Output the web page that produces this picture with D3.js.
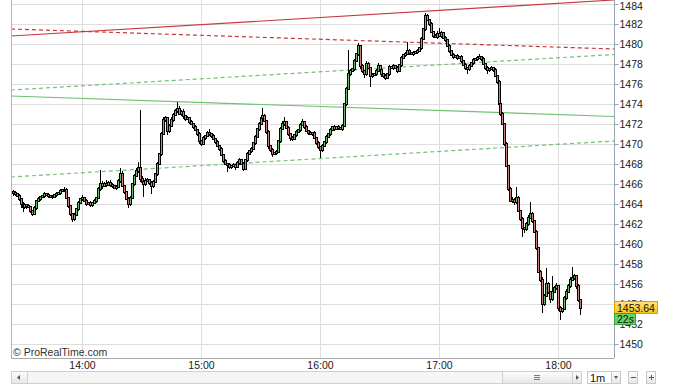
<!DOCTYPE html>
<html lang="en">
<head>
<meta charset="UTF-8">
<script src="https://cdnjs.cloudflare.com/ajax/libs/d3/7.8.5/d3.min.js"></script>
<style>
  body { margin: 0; background: #fff; }
  svg { display: block; font-family: "Liberation Sans", Arial, sans-serif; }
</style>
</head>
<body>
<svg id="chart" width="679" height="388"></svg>
<script>
// 1-minute candles, first bar at 13:25, open of the first bar
const firstBar = new Date(2013, 0, 2, 13, 25);
const firstOpen = 1465.2;

const closes = [
  1465.1,1465.0,1464.8,1464.5,1464.0,1463.7,1463.9,1463.8,1463.7,1463.3,
  1463.0,1463.6,1464.3,1464.5,1464.7,1464.8,1465.0,1464.9,1464.8,1464.7,
  1464.7,1464.9,1465.0,1465.1,1465.3,1465.4,1465.4,1464.6,1463.8,1463.0,
  1462.5,1462.9,1463.5,1464.1,1464.5,1464.6,1464.3,1464.0,1464.1,1463.9,
  1464.1,1464.3,1464.6,1465.5,1466.0,1465.8,1466.0,1465.9,1466.1,1465.9,
  1465.8,1465.6,1465.7,1466.3,1467.0,1465.8,1465.2,1464.5,1464.0,1464.6,
  1466.0,1466.8,1467.3,1467.6,1466.5,1466.2,1466.0,1466.3,1466.4,1466.1,
  1465.8,1466.2,1467.0,1468.0,1469.0,1471.0,1472.4,1472.6,1471.3,1471.8,
  1472.4,1472.9,1473.3,1473.5,1473.0,1473.2,1472.8,1472.5,1472.6,1472.2,
  1472.0,1471.7,1471.4,1471.0,1470.3,1470.0,1470.6,1470.8,1471.1,1471.0,
  1470.8,1470.5,1470.2,1469.8,1469.5,1468.9,1468.3,1468.0,1467.9,1467.7,
  1467.8,1467.9,1467.7,1468.1,1468.4,1468.0,1467.5,1468.4,1469.0,1469.3,
  1469.5,1470.1,1470.7,1471.5,1472.0,1472.6,1472.8,1472.3,1471.2,1469.8,
  1469.4,1469.0,1469.1,1469.2,1470.3,1471.5,1472.0,1472.2,1471.6,1471.0,
  1470.6,1470.5,1470.9,1471.2,1471.4,1471.9,1472.2,1471.7,1471.3,1471.1,
  1471.0,1471.1,1470.6,1470.1,1469.7,1469.4,1469.8,1470.2,1470.7,1471.0,
  1471.4,1471.7,1471.5,1471.7,1471.6,1471.5,1471.8,1474.0,1475.5,1477.0,
  1477.3,1477.5,1478.3,1479.0,1479.8,1477.8,1477.3,1477.0,1478.0,1477.6,
  1476.8,1476.9,1477.0,1477.3,1477.8,1477.4,1477.0,1476.8,1476.6,1477.0,
  1477.7,1477.6,1477.8,1477.6,1477.3,1477.9,1478.6,1478.9,1479.0,1479.3,
  1479.1,1479.0,1479.1,1479.2,1479.3,1479.6,1480.5,1481.5,1482.8,1482.4,
  1482.0,1481.2,1480.8,1480.7,1481.0,1480.8,1481.1,1480.6,1480.4,1479.8,
  1479.3,1478.9,1478.7,1478.8,1478.6,1478.7,1478.3,1477.9,1477.6,1477.5,
  1477.8,1478.1,1478.4,1478.5,1478.6,1478.7,1478.5,1478.0,1477.6,1477.4,
  1477.5,1477.6,1477.4,1476.8,1476.2,1474.0,1473.0,1472.0,1470.0,1467.8,
  1465.5,1464.3,1464.4,1464.2,1464.6,1463.3,1462.5,1461.6,1461.5,1462.0,
  1462.6,1463.0,1462.3,1461.2,1459.6,1457.2,1456.4,1454.0,1454.8,1456.0,
  1455.2,1454.5,1455.2,1455.6,1455.8,1453.6,1453.3,1453.5,1454.6,1455.2,
  1455.8,1456.4,1456.6,1456.8,1455.8,1454.4,1453.64
];

// wick length above the body top / below the body bottom (index points)
const wickUp = [
  0.2,0.2,0.1,0.2,0.1,0.2,0.2,0.1,0.2,0.1, 0.1,0.2,0.1,0.2,0.1,0.1,0.2,0.1,0.2,0.1,
  0.2,0.1,0.2,0.1,0.2,0.1,0.3,0.2,0.1,0.1, 0.1,0.2,0.1,0.2,0.1,0.3,0.1,0.2,0.1,0.2,
  0.1,0.2,0.1,0.2,1.4,0.3,0.2,0.4,0.2,0.3, 0.2,0.1,0.2,0.2,0.6,0.3,0.1,0.1,0.2,0.2,
  0.1,0.2,0.3,0.6,5.8,0.3,0.2,0.3,0.2,0.1, 0.2,0.2,0.1,0.2,0.1,0.2,0.3,0.2,0.1,0.2,
  0.3,0.2,0.2,0.7,0.3,0.2,0.3,0.1,0.2,0.1, 0.2,0.1,0.2,0.1,0.2,0.1,0.2,0.1,0.2,0.4,
  0.1,0.2,0.1,0.2,0.1,0.2,0.1,0.2,0.1,0.2, 0.1,0.2,0.1,0.2,0.2,0.1,0.2,0.1,0.2,0.1,
  0.2,0.1,0.2,0.1,0.2,0.3,0.8,0.2,0.1,0.2, 0.1,0.2,0.1,0.2,0.1,0.2,0.3,0.5,0.1,0.2,
  0.1,0.2,0.1,0.2,0.1,0.2,0.3,0.1,0.2,0.1, 0.2,0.1,0.2,0.1,0.2,0.1,0.2,0.1,0.2,0.1,
  0.2,0.1,0.2,0.1,0.2,0.1,0.2,0.1,0.2,2.4, 0.2,0.1,0.2,0.1,0.3,0.1,0.2,0.1,0.3,0.2,
  0.1,0.2,0.1,0.2,0.3,0.1,0.2,0.1,0.2,0.1, 0.2,0.1,0.2,0.1,0.2,0.1,0.2,0.1,0.2,0.9,
  0.2,0.1,0.2,0.1,0.2,0.1,0.2,0.1,0.3,0.2, 0.1,0.2,0.1,0.2,0.3,0.6,0.2,0.1,0.2,0.1,
  0.2,0.1,0.2,0.1,0.2,0.1,0.2,0.1,0.2,0.1, 0.2,0.1,0.2,0.1,0.2,0.3,0.1,0.2,0.1,0.2,
  0.1,0.2,0.1,0.2,0.1,0.2,0.1,0.2,0.1,0.2, 0.1,0.2,0.3,0.2,1.1,0.2,0.1,0.2,0.1,0.2,
  0.3,1.2,0.2,0.1,0.2,0.1,0.2,0.3,0.2,1.6, 0.2,0.1,1.6,0.2,0.3,0.1,0.2,0.1,0.2,0.3,
  0.2,0.3,1.1,0.2,0.1,0.2,0.1
];
const wickDn = [
  0.3,0.2,0.1,0.2,0.4,0.5,0.2,0.3,0.1,0.2, 0.2,0.1,0.2,0.1,0.2,0.1,0.2,0.1,0.2,0.1,
  0.2,0.1,0.2,0.1,0.2,0.1,0.2,0.1,0.2,0.2, 0.3,0.2,0.1,0.2,0.1,0.2,0.1,0.2,0.1,0.2,
  0.2,0.1,0.2,0.1,0.2,0.3,0.1,0.2,0.1,0.2, 0.2,0.1,0.2,0.1,0.2,0.1,0.2,0.1,0.4,0.2,
  0.1,0.2,0.1,0.2,0.3,0.2,1.3,0.2,0.1,0.2, 0.8,0.2,0.1,0.2,0.1,0.2,0.1,0.2,0.4,0.2,
  0.1,0.2,0.1,0.2,0.1,0.2,0.3,0.2,0.1,0.2, 0.1,0.2,0.1,0.2,0.3,0.2,0.1,0.2,0.1,0.2,
  0.2,0.1,0.2,0.1,0.2,0.1,0.2,0.1,0.7,0.2, 0.2,0.1,0.3,0.1,0.2,0.1,0.2,0.1,0.2,0.1,
  0.2,0.1,0.2,0.1,0.2,0.1,0.2,0.1,0.2,0.3, 0.2,0.3,0.1,0.2,0.1,0.2,0.1,0.2,0.1,0.2,
  0.3,0.2,0.1,0.2,0.1,0.2,0.1,0.2,0.1,0.2, 0.1,0.2,0.1,0.2,0.2,0.8,0.2,0.1,0.2,0.1,
  0.2,0.1,0.2,0.1,0.2,0.1,0.2,0.1,0.2,0.1, 0.2,0.1,0.2,0.1,0.2,0.3,0.2,0.4,0.2,0.1,
  1.1,0.2,0.1,0.2,0.1,0.2,0.3,0.2,0.2,0.1, 0.2,0.1,0.2,0.1,0.2,0.1,0.2,0.1,0.2,0.1,
  0.2,0.1,0.2,0.1,0.2,0.1,0.2,0.1,0.2,0.1, 0.2,0.1,0.2,0.1,0.2,0.1,0.2,0.1,0.2,0.1,
  0.2,0.1,0.2,0.1,0.2,0.1,0.2,0.1,0.2,0.5, 0.2,0.1,0.2,0.1,0.2,0.1,0.2,0.1,0.2,0.4,
  0.2,0.1,0.2,0.1,0.2,0.1,0.2,0.1,0.2,0.1, 0.2,0.1,0.2,0.3,0.2,0.1,0.2,0.9,0.4,0.2,
  0.2,0.1,0.2,0.1,0.2,0.1,0.2,0.9,0.2,0.1, 0.2,0.4,0.2,0.1,0.2,0.3,0.9,0.2,0.1,0.2,
  0.1,0.2,0.1,0.2,0.3,0.2,0.7
];

// drawn lines: price at the left edge and at the right edge of the chart
const trendNames  = ["redSolid", "redDash", "greenDashHi", "greenSolid", "greenDashLo"];
const trendStart  = [1480.8, 1481.5, 1475.4, 1474.8, 1466.7];
const trendEnd    = [1484.4, 1479.5, 1478.95, 1472.75, 1470.3];
const trendColor  = ["#c8383a", "#c8383a", "#72c372", "#6cc26c", "#72c372"];
const trendDashed = [false, true, true, false, true];

const yTicks = d3.range(1450, 1485, 2);
const lastPrice = 1453.64;
const countdown = "22s";

const plot = { left: 11, right: 614, top: 0, bottom: 358 };

const svg = d3.select("#chart");

const x = d3.scaleTime()
  .domain([new Date(2013, 0, 2, 13, 24, 12), new Date(2013, 0, 2, 18, 28, 14)])
  .range([plot.left, plot.right]);
const y = d3.scaleLinear()
  .domain([1448.6, 1484.4])
  .range([plot.bottom, plot.top]);

const bars = closes.map((c, i) => {
  const o = i ? closes[i - 1] : firstOpen;
  return {
    t: new Date(+firstBar + i * 60000),
    o, c,
    h: Math.max(o, c) + wickUp[i],
    l: Math.min(o, c) - wickDn[i]
  };
});

// grid
const grid = svg.append("g").attr("shape-rendering", "crispEdges");
grid.selectAll(".hg").data(yTicks).join("line")
  .attr("x1", plot.left).attr("x2", plot.right)
  .attr("y1", d => Math.round(y(d)) + 0.5).attr("y2", d => Math.round(y(d)) + 0.5)
  .attr("stroke", "#dedede");
const hours = x.ticks(d3.timeHour.every(1));
grid.selectAll(".vg").data(hours).join("line")
  .attr("x1", d => Math.round(x(d)) + 0.5).attr("x2", d => Math.round(x(d)) + 0.5)
  .attr("y1", plot.top).attr("y2", plot.bottom)
  .attr("stroke", "#dedede");

// trend lines
const t0 = x.domain()[0], t1 = x.domain()[1];
svg.append("g").selectAll("line").data(trendNames).join("line")
  .attr("x1", x(t0)).attr("x2", x(t1))
  .attr("y1", (d, i) => y(trendStart[i])).attr("y2", (d, i) => y(trendEnd[i]))
  .attr("stroke", (d, i) => trendColor[i])
  .attr("stroke-width", 1.2)
  .attr("stroke-dasharray", (d, i) => trendDashed[i] ? "4,3" : null);

// candles: black wick, black body outline, coloured centre
const cg = svg.append("g").attr("shape-rendering", "crispEdges");
bars.forEach(b => {
  const xc = Math.round(x(b.t));
  const yh = Math.round(y(b.h)), yl = Math.round(y(b.l));
  const top = Math.round(y(Math.max(b.o, b.c))), bot = Math.round(y(Math.min(b.o, b.c)));
  cg.append("rect").attr("x", xc).attr("y", yh).attr("width", 1).attr("height", Math.max(1, yl - yh)).attr("fill", "#000");
  cg.append("rect").attr("x", xc - 1).attr("y", top - 1).attr("width", 3).attr("height", Math.max(2, bot - top + 2)).attr("fill", "#000");
  if (bot - top > 0) {
    cg.append("rect").attr("x", xc).attr("y", top).attr("width", 1).attr("height", bot - top)
      .attr("fill", b.c >= b.o ? "#6cb86c" : "#c88080");
  }
});

// frame
svg.append("line").attr("x1", plot.left + 0.5).attr("x2", plot.left + 0.5)
  .attr("y1", plot.top).attr("y2", plot.bottom).attr("stroke", "#b4b4b4");
svg.append("line").attr("x1", plot.left).attr("x2", plot.right)
  .attr("y1", plot.bottom + 0.5).attr("y2", plot.bottom + 0.5).attr("stroke", "#a8a8a8");

// price axis
const ya = svg.append("g")
  .attr("transform", `translate(${plot.right + 0.5},0)`)
  .call(d3.axisRight(y).tickValues(yTicks).tickSize(4).tickPadding(1).tickFormat(d3.format("d")));
ya.select(".domain").attr("stroke", "#98a4b0").attr("d", `M0,${plot.top}V${plot.bottom}`);
ya.selectAll(".tick line").attr("stroke", "#98a4b0");
ya.selectAll(".tick text").attr("fill", "#1a1a1a").style("font-size", "10.5px")
  .style("font-family", "'Liberation Sans', Arial, sans-serif")
  .attr("dy", d => d === 1484 ? "0.5em" : "0.32em");

// time axis
const xa = svg.append("g")
  .attr("transform", `translate(0,${plot.bottom})`)
  .call(d3.axisBottom(x).ticks(d3.timeHour.every(1)).tickFormat(d3.timeFormat("%H:%M")).tickSize(0).tickPadding(4));
xa.select(".domain").remove();
xa.selectAll(".tick text").attr("fill", "#1a1a1a").style("font-size", "10.5px")
  .style("font-family", "'Liberation Sans', Arial, sans-serif");

svg.append("text").attr("x", 13).attr("y", 355.5)
  .attr("fill", "#333").style("font-size", "10.5px").text("© ProRealTime.com");

// last price and countdown tags
const yp = Math.round(y(lastPrice));
const defs = svg.append("defs");
const grad = defs.append("linearGradient").attr("id", "gold")
  .attr("x1", 0).attr("x2", 0).attr("y1", 0).attr("y2", 1);
grad.append("stop").attr("offset", "0%").attr("stop-color", "#ffe47a");
grad.append("stop").attr("offset", "100%").attr("stop-color", "#f6c21a");
svg.append("rect").attr("x", plot.right + 0.5).attr("y", yp - 6.5).attr("width", 43).attr("height", 12)
  .attr("fill", "url(#gold)").attr("stroke", "#d7a200");
svg.append("text").attr("x", plot.right + 3).attr("y", yp + 3.5)
  .attr("fill", "#111").style("font-size", "10.5px").text(d3.format(".2f")(lastPrice));
svg.append("rect").attr("x", plot.right + 0.5).attr("y", yp + 5.5).attr("width", 21).attr("height", 11)
  .attr("fill", "#66d166").attr("stroke", "#3aa63a");
svg.append("text").attr("x", plot.right + 3).attr("y", yp + 14.5)
  .attr("fill", "#111").style("font-size", "10.5px").text(countdown);

// scrollbar and controls
const sb = svg.append("g").attr("shape-rendering", "crispEdges");
const sbY = 371, sbH = 12;
const sgrad = defs.append("linearGradient").attr("id", "btn")
  .attr("x1", 0).attr("x2", 0).attr("y1", 0).attr("y2", 1);
sgrad.append("stop").attr("offset", "0%").attr("stop-color", "#fdfdfd");
sgrad.append("stop").attr("offset", "100%").attr("stop-color", "#e6e6e6");
sb.append("rect").attr("x", 11.5).attr("y", sbY + 0.5).attr("width", 570).attr("height", sbH)
  .attr("fill", "#f5f5f5").attr("stroke", "#d0d0d0");
sb.append("rect").attr("x", 11.5).attr("y", sbY + 0.5).attr("width", 16).attr("height", sbH)
  .attr("fill", "url(#btn)").attr("stroke", "#d0d0d0");
sb.append("rect").attr("x", 502.5).attr("y", sbY + 0.5).attr("width", 70).attr("height", sbH)
  .attr("fill", "url(#btn)").attr("stroke", "#d0d0d0");
sb.append("rect").attr("x", 572.5).attr("y", sbY + 0.5).attr("width", 9).attr("height", sbH)
  .attr("fill", "url(#btn)").attr("stroke", "#d0d0d0");
svg.append("path").attr("d", `M17,${sbY + 6.5}l3,-2.5v5z`).attr("fill", "#555");
svg.append("path").attr("d", `M576,${sbY + 4}l3,2.5l-3,2.5z`).attr("fill", "#555");
[0, 2, 4].forEach(k => sb.append("line").attr("x1", 534).attr("x2", 540)
  .attr("y1", sbY + 4.5 + k).attr("y2", sbY + 4.5 + k).attr("stroke", "#777"));

sb.append("rect").attr("x", 587.5).attr("y", sbY + 0.5).attr("width", 33).attr("height", sbH)
  .attr("fill", "#fff").attr("stroke", "#c8c8c8");
sb.append("rect").attr("x", 611.5).attr("y", sbY + 0.5).attr("width", 9).attr("height", sbH)
  .attr("fill", "url(#btn)").attr("stroke", "#c8c8c8");
svg.append("path").attr("d", `M614,${sbY + 5}h4l-2,3z`).attr("fill", "#555");
svg.append("text").attr("x", 590).attr("y", sbY + 10.5).attr("fill", "#111")
  .style("font-size", "11px").text("1m");
sb.append("rect").attr("x", 628.5).attr("y", sbY + 0.5).attr("width", 9).attr("height", sbH)
  .attr("fill", "url(#btn)").attr("stroke", "#c8c8c8");
sb.append("line").attr("x1", 631).attr("x2", 636).attr("y1", sbY + 6.5).attr("y2", sbY + 6.5).attr("stroke", "#555");
sb.append("rect").attr("x", 646.5).attr("y", sbY + 0.5).attr("width", 9).attr("height", sbH)
  .attr("fill", "url(#btn)").attr("stroke", "#c8c8c8");
sb.append("line").attr("x1", 649).attr("x2", 654).attr("y1", sbY + 6.5).attr("y2", sbY + 6.5).attr("stroke", "#555");
sb.append("line").attr("x1", 651.5).attr("x2", 651.5).attr("y1", sbY + 4).attr("y2", sbY + 9).attr("stroke", "#555");
</script>
</body>
</html>
